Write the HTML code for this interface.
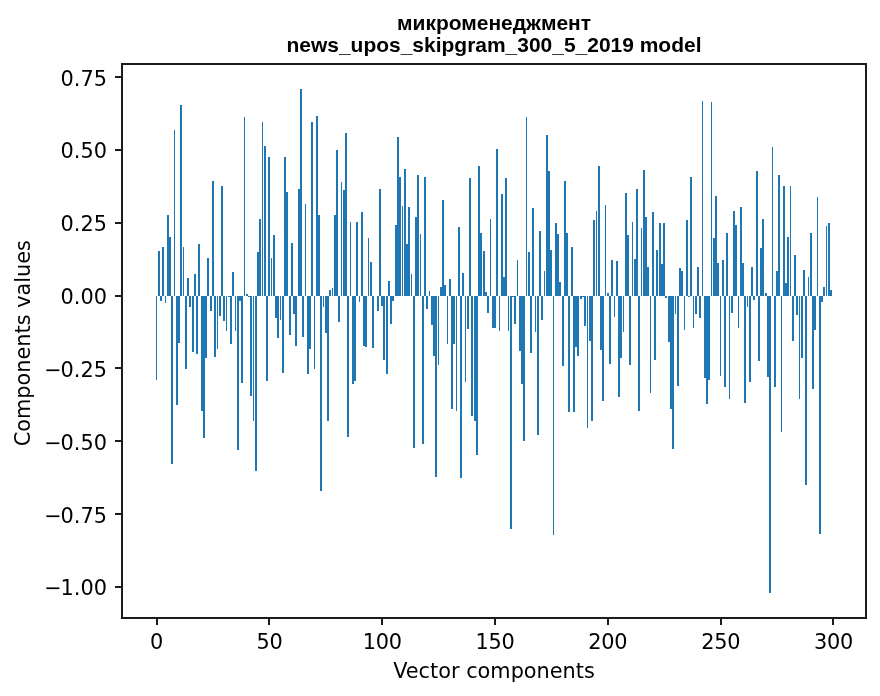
<!DOCTYPE html>
<html lang="ru"><head><meta charset="utf-8"><title>микроменеджмент</title>
<style>
html,body{margin:0;padding:0;background:#fff;}
body{width:880px;height:696px;overflow:hidden;}
svg{display:block;}
</style></head><body>
<svg width="880" height="696" viewBox="0 0 880 696">
<rect x="0" y="0" width="880" height="696" fill="#fff"/>
<g fill="#1f77b4" shape-rendering="crispEdges"><rect x="156" y="296" width="1" height="84"/><rect x="158" y="251" width="2" height="45"/><rect x="160" y="296" width="2" height="5"/><rect x="162" y="247" width="2" height="49"/><rect x="165" y="296" width="1" height="7"/><rect x="167" y="215" width="2" height="81"/><rect x="169" y="237" width="2" height="59"/><rect x="171" y="296" width="2" height="168"/><rect x="174" y="130" width="1" height="166"/><rect x="176" y="296" width="2" height="109"/><rect x="178" y="296" width="2" height="47"/><rect x="180" y="105" width="2" height="191"/><rect x="183" y="247" width="1" height="49"/><rect x="185" y="296" width="2" height="73"/><rect x="187" y="278" width="2" height="18"/><rect x="189" y="296" width="2" height="11"/><rect x="192" y="296" width="2" height="56"/><rect x="194" y="274" width="2" height="22"/><rect x="196" y="296" width="2" height="58"/><rect x="198" y="244" width="2" height="52"/><rect x="201" y="296" width="2" height="115"/><rect x="203" y="296" width="2" height="142"/><rect x="205" y="296" width="2" height="62"/><rect x="207" y="258" width="2" height="38"/><rect x="210" y="296" width="2" height="15"/><rect x="212" y="181" width="2" height="115"/><rect x="214" y="296" width="2" height="61"/><rect x="217" y="296" width="1" height="53"/><rect x="219" y="296" width="2" height="20"/><rect x="221" y="186" width="2" height="110"/><rect x="223" y="296" width="2" height="25"/><rect x="226" y="296" width="1" height="35"/><rect x="228" y="296" width="2" height="1"/><rect x="230" y="296" width="2" height="48"/><rect x="232" y="272" width="2" height="24"/><rect x="235" y="296" width="1" height="35"/><rect x="237" y="296" width="2" height="154"/><rect x="239" y="296" width="2" height="5"/><rect x="241" y="296" width="2" height="87"/><rect x="244" y="117" width="1" height="179"/><rect x="246" y="294" width="2" height="2"/><rect x="248" y="296" width="2" height="1"/><rect x="250" y="296" width="2" height="100"/><rect x="253" y="296" width="1" height="125"/><rect x="255" y="296" width="2" height="175"/><rect x="257" y="252" width="2" height="44"/><rect x="259" y="219" width="2" height="77"/><rect x="262" y="122" width="1" height="174"/><rect x="264" y="146" width="2" height="150"/><rect x="266" y="296" width="2" height="85"/><rect x="268" y="157" width="2" height="139"/><rect x="271" y="258" width="1" height="38"/><rect x="273" y="235" width="2" height="61"/><rect x="275" y="296" width="2" height="22"/><rect x="277" y="296" width="2" height="42"/><rect x="280" y="296" width="1" height="24"/><rect x="282" y="296" width="2" height="77"/><rect x="284" y="157" width="2" height="139"/><rect x="286" y="192" width="2" height="104"/><rect x="289" y="296" width="2" height="39"/><rect x="291" y="243" width="2" height="53"/><rect x="293" y="296" width="2" height="18"/><rect x="295" y="296" width="2" height="50"/><rect x="298" y="189" width="2" height="107"/><rect x="300" y="89" width="2" height="207"/><rect x="302" y="296" width="2" height="41"/><rect x="305" y="204" width="1" height="92"/><rect x="307" y="296" width="2" height="78"/><rect x="309" y="296" width="2" height="53"/><rect x="311" y="122" width="2" height="174"/><rect x="314" y="296" width="1" height="73"/><rect x="316" y="116" width="2" height="180"/><rect x="318" y="215" width="2" height="81"/><rect x="320" y="296" width="2" height="195"/><rect x="323" y="296" width="1" height="11"/><rect x="325" y="296" width="2" height="37"/><rect x="327" y="296" width="2" height="125"/><rect x="329" y="290" width="2" height="6"/><rect x="332" y="288" width="1" height="8"/><rect x="334" y="215" width="2" height="81"/><rect x="336" y="150" width="2" height="146"/><rect x="338" y="296" width="2" height="26"/><rect x="341" y="182" width="1" height="114"/><rect x="343" y="190" width="2" height="106"/><rect x="345" y="133" width="2" height="163"/><rect x="347" y="296" width="2" height="141"/><rect x="350" y="222" width="1" height="74"/><rect x="352" y="296" width="2" height="88"/><rect x="354" y="296" width="2" height="85"/><rect x="356" y="222" width="2" height="74"/><rect x="359" y="296" width="1" height="6"/><rect x="361" y="212" width="2" height="84"/><rect x="363" y="296" width="2" height="50"/><rect x="365" y="296" width="2" height="51"/><rect x="368" y="238" width="1" height="58"/><rect x="370" y="262" width="2" height="34"/><rect x="372" y="296" width="2" height="52"/><rect x="377" y="296" width="2" height="15"/><rect x="379" y="189" width="2" height="107"/><rect x="381" y="296" width="2" height="10"/><rect x="383" y="296" width="2" height="64"/><rect x="386" y="296" width="2" height="78"/><rect x="388" y="281" width="2" height="15"/><rect x="390" y="296" width="2" height="28"/><rect x="392" y="296" width="2" height="5"/><rect x="395" y="225" width="2" height="71"/><rect x="397" y="137" width="2" height="159"/><rect x="399" y="177" width="2" height="119"/><rect x="402" y="206" width="1" height="90"/><rect x="404" y="169" width="2" height="127"/><rect x="406" y="244" width="2" height="52"/><rect x="408" y="207" width="2" height="89"/><rect x="411" y="274" width="1" height="22"/><rect x="413" y="296" width="2" height="152"/><rect x="415" y="217" width="2" height="79"/><rect x="417" y="175" width="2" height="121"/><rect x="420" y="234" width="1" height="62"/><rect x="422" y="296" width="2" height="148"/><rect x="424" y="177" width="2" height="119"/><rect x="426" y="296" width="2" height="13"/><rect x="429" y="291" width="1" height="5"/><rect x="431" y="296" width="2" height="29"/><rect x="433" y="296" width="2" height="60"/><rect x="435" y="296" width="2" height="181"/><rect x="438" y="296" width="1" height="69"/><rect x="440" y="287" width="2" height="9"/><rect x="442" y="200" width="2" height="96"/><rect x="444" y="285" width="2" height="11"/><rect x="447" y="296" width="1" height="48"/><rect x="449" y="279" width="2" height="17"/><rect x="451" y="296" width="2" height="113"/><rect x="453" y="296" width="2" height="48"/><rect x="456" y="296" width="1" height="115"/><rect x="458" y="227" width="2" height="69"/><rect x="460" y="296" width="2" height="182"/><rect x="462" y="273" width="2" height="23"/><rect x="465" y="296" width="1" height="86"/><rect x="467" y="296" width="2" height="33"/><rect x="469" y="178" width="2" height="118"/><rect x="471" y="296" width="2" height="120"/><rect x="474" y="296" width="2" height="125"/><rect x="476" y="296" width="2" height="159"/><rect x="478" y="166" width="2" height="130"/><rect x="480" y="233" width="2" height="63"/><rect x="483" y="251" width="2" height="45"/><rect x="485" y="292" width="2" height="4"/><rect x="487" y="296" width="2" height="17"/><rect x="490" y="219" width="1" height="77"/><rect x="492" y="296" width="2" height="32"/><rect x="494" y="296" width="2" height="32"/><rect x="496" y="149" width="2" height="147"/><rect x="499" y="296" width="1" height="35"/><rect x="501" y="194" width="2" height="102"/><rect x="503" y="277" width="2" height="19"/><rect x="505" y="178" width="2" height="118"/><rect x="508" y="296" width="1" height="35"/><rect x="510" y="296" width="2" height="233"/><rect x="512" y="296" width="2" height="1"/><rect x="514" y="296" width="2" height="28"/><rect x="517" y="260" width="1" height="36"/><rect x="519" y="296" width="2" height="55"/><rect x="521" y="296" width="2" height="88"/><rect x="523" y="296" width="2" height="145"/><rect x="526" y="117" width="1" height="179"/><rect x="528" y="252" width="2" height="44"/><rect x="530" y="296" width="2" height="57"/><rect x="532" y="208" width="2" height="88"/><rect x="535" y="296" width="1" height="36"/><rect x="537" y="296" width="2" height="139"/><rect x="539" y="231" width="2" height="65"/><rect x="541" y="296" width="2" height="24"/><rect x="544" y="271" width="1" height="25"/><rect x="546" y="135" width="2" height="161"/><rect x="548" y="171" width="2" height="125"/><rect x="550" y="250" width="2" height="46"/><rect x="553" y="296" width="1" height="239"/><rect x="555" y="223" width="2" height="73"/><rect x="557" y="234" width="2" height="62"/><rect x="559" y="282" width="2" height="14"/><rect x="562" y="296" width="2" height="70"/><rect x="564" y="181" width="2" height="115"/><rect x="566" y="233" width="2" height="63"/><rect x="568" y="296" width="2" height="116"/><rect x="571" y="247" width="2" height="49"/><rect x="573" y="296" width="2" height="116"/><rect x="575" y="296" width="2" height="51"/><rect x="577" y="296" width="2" height="60"/><rect x="580" y="296" width="2" height="3"/><rect x="582" y="296" width="2" height="1"/><rect x="584" y="296" width="2" height="30"/><rect x="587" y="296" width="1" height="132"/><rect x="589" y="296" width="2" height="45"/><rect x="591" y="296" width="2" height="125"/><rect x="593" y="220" width="2" height="76"/><rect x="596" y="211" width="1" height="85"/><rect x="598" y="166" width="2" height="130"/><rect x="600" y="296" width="2" height="54"/><rect x="602" y="296" width="2" height="105"/><rect x="605" y="205" width="1" height="91"/><rect x="607" y="293" width="2" height="3"/><rect x="609" y="296" width="2" height="68"/><rect x="611" y="260" width="2" height="36"/><rect x="614" y="296" width="1" height="21"/><rect x="616" y="261" width="2" height="35"/><rect x="618" y="296" width="2" height="101"/><rect x="620" y="296" width="2" height="62"/><rect x="623" y="296" width="1" height="36"/><rect x="625" y="193" width="2" height="103"/><rect x="627" y="235" width="2" height="61"/><rect x="629" y="296" width="2" height="69"/><rect x="632" y="222" width="1" height="74"/><rect x="634" y="259" width="2" height="37"/><rect x="636" y="189" width="2" height="107"/><rect x="638" y="296" width="2" height="115"/><rect x="641" y="228" width="1" height="68"/><rect x="643" y="170" width="2" height="126"/><rect x="645" y="217" width="2" height="79"/><rect x="647" y="267" width="2" height="29"/><rect x="650" y="296" width="1" height="97"/><rect x="652" y="212" width="2" height="84"/><rect x="654" y="296" width="2" height="64"/><rect x="656" y="250" width="2" height="46"/><rect x="659" y="223" width="2" height="73"/><rect x="661" y="264" width="2" height="32"/><rect x="663" y="223" width="2" height="73"/><rect x="665" y="296" width="2" height="2"/><rect x="668" y="296" width="2" height="46"/><rect x="670" y="296" width="2" height="113"/><rect x="672" y="296" width="2" height="153"/><rect x="675" y="296" width="1" height="18"/><rect x="677" y="296" width="2" height="90"/><rect x="679" y="268" width="2" height="28"/><rect x="681" y="271" width="2" height="25"/><rect x="684" y="296" width="1" height="34"/><rect x="686" y="220" width="2" height="76"/><rect x="688" y="296" width="2" height="1"/><rect x="690" y="177" width="2" height="119"/><rect x="693" y="296" width="1" height="32"/><rect x="695" y="296" width="2" height="18"/><rect x="697" y="267" width="2" height="29"/><rect x="699" y="296" width="2" height="22"/><rect x="702" y="101" width="1" height="195"/><rect x="704" y="296" width="2" height="82"/><rect x="706" y="296" width="2" height="108"/><rect x="708" y="296" width="2" height="84"/><rect x="711" y="102" width="1" height="194"/><rect x="713" y="238" width="2" height="58"/><rect x="715" y="196" width="2" height="100"/><rect x="717" y="263" width="2" height="33"/><rect x="720" y="296" width="1" height="80"/><rect x="722" y="260" width="2" height="36"/><rect x="724" y="296" width="2" height="91"/><rect x="726" y="233" width="2" height="63"/><rect x="729" y="296" width="1" height="103"/><rect x="731" y="296" width="2" height="17"/><rect x="733" y="211" width="2" height="85"/><rect x="735" y="225" width="2" height="71"/><rect x="738" y="296" width="1" height="32"/><rect x="740" y="207" width="2" height="89"/><rect x="742" y="263" width="2" height="33"/><rect x="744" y="296" width="2" height="107"/><rect x="747" y="296" width="1" height="11"/><rect x="749" y="296" width="2" height="86"/><rect x="751" y="267" width="2" height="29"/><rect x="753" y="296" width="2" height="4"/><rect x="756" y="171" width="2" height="125"/><rect x="758" y="296" width="2" height="65"/><rect x="760" y="248" width="2" height="48"/><rect x="762" y="219" width="2" height="77"/><rect x="765" y="293" width="2" height="3"/><rect x="767" y="296" width="2" height="81"/><rect x="769" y="296" width="2" height="297"/><rect x="772" y="147" width="1" height="149"/><rect x="774" y="296" width="2" height="91"/><rect x="776" y="271" width="2" height="25"/><rect x="778" y="175" width="2" height="121"/><rect x="781" y="296" width="1" height="136"/><rect x="783" y="186" width="2" height="110"/><rect x="785" y="283" width="2" height="13"/><rect x="787" y="237" width="2" height="59"/><rect x="790" y="186" width="1" height="110"/><rect x="792" y="296" width="2" height="45"/><rect x="794" y="255" width="2" height="41"/><rect x="796" y="296" width="2" height="19"/><rect x="799" y="296" width="1" height="103"/><rect x="801" y="296" width="2" height="62"/><rect x="803" y="270" width="2" height="26"/><rect x="805" y="296" width="2" height="189"/><rect x="808" y="277" width="1" height="19"/><rect x="810" y="233" width="2" height="63"/><rect x="812" y="296" width="2" height="93"/><rect x="814" y="296" width="2" height="34"/><rect x="817" y="197" width="1" height="99"/><rect x="819" y="296" width="2" height="238"/><rect x="821" y="296" width="2" height="6"/><rect x="823" y="287" width="2" height="9"/><rect x="826" y="226" width="1" height="70"/><rect x="828" y="223" width="2" height="73"/><rect x="830" y="290" width="2" height="6"/></g>
<g fill="#1c1c1c" shape-rendering="crispEdges">
<rect x="121" y="63" width="2" height="556"/>
<rect x="865" y="63" width="2" height="556"/>
<rect x="121" y="63" width="746" height="2"/>
<rect x="121" y="617" width="746" height="2"/>
<rect x="156" y="619" width="2" height="6"/>
<rect x="268" y="619" width="2" height="6"/>
<rect x="381" y="619" width="2" height="6"/>
<rect x="494" y="619" width="2" height="6"/>
<rect x="607" y="619" width="2" height="6"/>
<rect x="720" y="619" width="2" height="6"/>
<rect x="832" y="619" width="2" height="6"/>
<rect x="115" y="76" width="6" height="2"/>
<rect x="115" y="149" width="6" height="2"/>
<rect x="115" y="222" width="6" height="2"/>
<rect x="115" y="295" width="6" height="2"/>
<rect x="115" y="367" width="6" height="2"/>
<rect x="115" y="440" width="6" height="2"/>
<rect x="115" y="513" width="6" height="2"/>
<rect x="115" y="586" width="6" height="2"/>
</g>
<g font-family="'DejaVu Sans', 'Liberation Sans', sans-serif" font-size="20.83px" fill="#000">
<text x="156.63" y="649" text-anchor="middle" letter-spacing="-0.25">0</text>
<text x="269.43" y="649" text-anchor="middle" letter-spacing="-0.25">50</text>
<text x="382.24" y="649" text-anchor="middle" letter-spacing="-0.25">100</text>
<text x="495.04" y="649" text-anchor="middle" letter-spacing="-0.25">150</text>
<text x="607.84" y="649" text-anchor="middle" letter-spacing="-0.25">200</text>
<text x="720.64" y="649" text-anchor="middle" letter-spacing="-0.25">250</text>
<text x="833.45" y="649" text-anchor="middle" letter-spacing="-0.25">300</text>
<text x="107.0" y="85.50" text-anchor="end">0.75</text>
<text x="107.0" y="158.35" text-anchor="end">0.50</text>
<text x="107.0" y="231.20" text-anchor="end">0.25</text>
<text x="107.0" y="304.05" text-anchor="end">0.00</text>
<text x="107.0" y="376.90" text-anchor="end"><tspan letter-spacing="-1.2">−</tspan>0.25</text>
<text x="107.0" y="449.75" text-anchor="end"><tspan letter-spacing="-1.2">−</tspan>0.50</text>
<text x="107.0" y="522.60" text-anchor="end"><tspan letter-spacing="-1.2">−</tspan>0.75</text>
<text x="107.0" y="595.45" text-anchor="end"><tspan letter-spacing="-1.2">−</tspan>1.00</text>
<text x="494" y="678.3" text-anchor="middle">Vector components</text>
<text transform="translate(30.3 343.2) rotate(-90)" text-anchor="middle">Components values</text>
</g>
<g font-family="'Liberation Sans', Arial, sans-serif" font-weight="bold" font-size="20.97px" fill="#000" text-anchor="middle">
<text x="494" y="29.5">микроменеджмент</text>
<text x="494" y="51.5">news_upos_skipgram_300_5_2019 model</text>
</g>
</svg>
</body></html>
